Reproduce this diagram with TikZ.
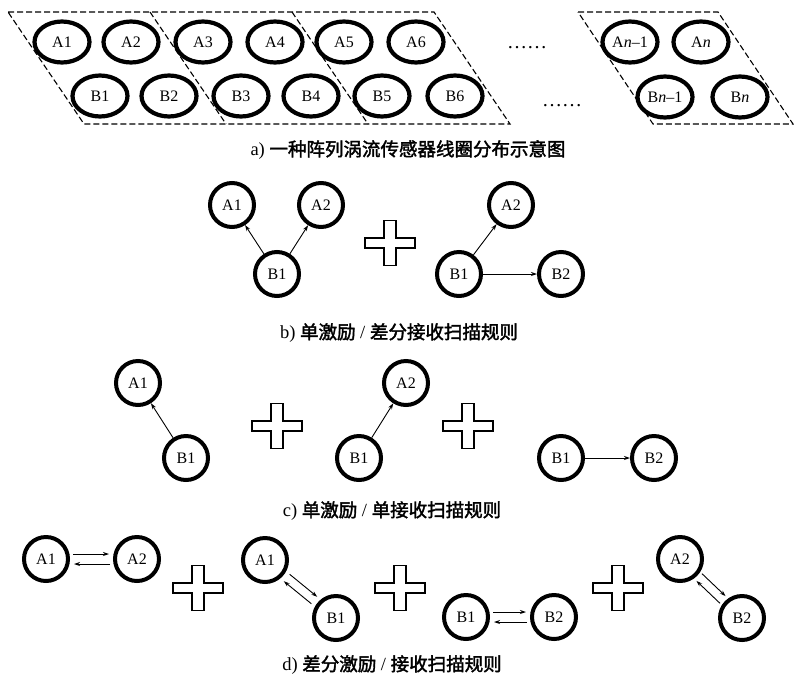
\documentclass[tikz,border=0pt]{standalone}
\usepackage{fontspec}
\setmainfont{Liberation Serif}
\newfontfamily\cjk{Noto Sans CJK SC}[FakeBold=2]
\usetikzlibrary{shapes.geometric,arrows.meta}

\tikzset{
  coil/.style={draw, ellipse, line width=4.2pt, minimum width=55pt, minimum height=41pt,
    inner sep=0pt, font=\fontsize{16}{16}\selectfont},
  ring/.style={draw, circle, line width=4pt, minimum size=44pt, inner sep=0pt,
    font=\fontsize{16}{16}\selectfont},
  arr/.style={-{Stealth[length=6pt,width=4pt]}, line width=0.9pt},
  pairarr/.style={arr, shorten <=3pt, shorten >=4pt},
  frame/.style={dash pattern=on 6pt off 3pt, line width=1.1pt},
  caption/.style={font=\fontsize{18.5}{20}\selectfont, inner sep=0pt},
  dotrow/.style={font=\fontsize{20}{20}\selectfont, inner sep=0pt, anchor=base},
  pics/crossmark/.style={code={
    \draw[line width=1.3pt, fill=white]
      (-6,-22.5) -- (6,-22.5) -- (6,-5) -- (25,-5) -- (25,5) -- (6,5) -- (6,22.5)
      -- (-6,22.5) -- (-6,5) -- (-25,5) -- (-25,-5) -- (-6,-5) -- cycle;
  }}
}

\begin{document}
\begin{tikzpicture}[x=1pt,y=-1pt]
\useasboundingbox[fill=white] (0,0) rectangle (794,678);

% ---------- a) coil layout ----------
% dashed groups
\draw[frame] (8,12) -- (434,12) -- (510,124) -- (84,124) -- cycle;
\draw[frame] (150,12) -- (226,124);
\draw[frame] (292,12) -- (368,124);
\draw[frame] (578,12) -- (718,12) -- (793,124) -- (653,124) -- cycle;

\node[coil] (A1) at (62,42) {A1};
\node[coil] (A2) at (131,42) {A2};
\node[coil] (A3) at (203,42) {A3};
\node[coil] (A4) at (275,42) {A4};
\node[coil] (A5) at (344,42) {A5};
\node[coil] (A6) at (416,42) {A6};
\node[coil] (B1) at (100,96) {B1};
\node[coil] (B2) at (169,96) {B2};
\node[coil] (B3) at (241,96) {B3};
\node[coil] (B4) at (311,96) {B4};
\node[coil] (B5) at (382,96) {B5};
\node[coil] (B6) at (455,96) {B6};
\node[coil] (Anm) at (630,42) {A\textit{n}--1};
\node[coil] (An) at (701,42) {A\textit{n}};
\node[coil] (Bnm) at (665,97) {B\textit{n}--1};
\node[coil] (Bn) at (740,97) {B\textit{n}};

\node[dotrow] (dotsA) at (527,48) {……};
\node[dotrow] (dotsB) at (562,106) {……};

\node[caption] (capa) at (408,150) {a) {\cjk 一种阵列涡流传感器线圈分布示意图}};

% ---------- b) single excitation / differential receiving ----------
\node[ring] (ba1) at (232,205) {A1};
\node[ring] (ba2) at (321,205) {A2};
\node[ring] (bb1) at (277,274) {B1};
\draw[arr] (bb1) -- (ba1);
\draw[arr] (bb1) -- (ba2);
\pic (bplus) at (390,243) {crossmark};
\node[ring] (ca2) at (511,205) {A2};
\node[ring] (cb1) at (459,274) {B1};
\node[ring] (cb2) at (561,274) {B2};
\draw[arr] (cb1) -- (ca2);
\draw[arr] (cb1) -- (cb2);
\node[caption] (capb) at (399,333) {b) {\cjk 单激励} / {\cjk 差分接收扫描规则}};

% ---------- c) single excitation / single receiving ----------
\node[ring] (ea1) at (138,383) {A1};
\node[ring] (eb1) at (186,458) {B1};
\draw[arr] (eb1) -- (ea1);
\pic (cplus1) at (277,426) {crossmark};
\node[ring] (fa2) at (406,383) {A2};
\node[ring] (fb1) at (359,458) {B1};
\draw[arr] (fb1) -- (fa2);
\pic (cplus2) at (468,426) {crossmark};
\node[ring] (gb1) at (561,458) {B1};
\node[ring] (gb2) at (654,458) {B2};
\draw[arr] (gb1) -- (gb2);
\node[caption] (capc) at (392,511) {c) {\cjk 单激励} / {\cjk 单接收扫描规则}};

% ---------- d) differential excitation / receiving ----------
\node[ring] (ha1) at (46,559) {A1};
\node[ring] (ha2) at (137,559) {A2};
\draw[pairarr, transform canvas={yshift=5pt}] (ha1) -- (ha2);
\draw[pairarr, transform canvas={yshift=-5pt}] (ha2) -- (ha1);
\pic (dplus1) at (198,588) {crossmark};
\node[ring] (ia1) at (265,560) {A1};
\node[ring] (ib1) at (336,618) {B1};
\draw[pairarr, shorten <=4pt, transform canvas={shift={(2.9pt,3.5pt)}}] (ia1) -- (ib1);
\draw[pairarr, shorten <=4pt, transform canvas={shift={(-2.9pt,-3.5pt)}}] (ib1) -- (ia1);
\pic (dplus2) at (400,588) {crossmark};
\node[ring] (jb1) at (466,617) {B1};
\node[ring] (jb2) at (554,617) {B2};
\draw[pairarr, transform canvas={yshift=5pt}] (jb1) -- (jb2);
\draw[pairarr, transform canvas={yshift=-5pt}] (jb2) -- (jb1);
\pic (dplus3) at (618,588) {crossmark};
\node[ring] (ka2) at (680,559) {A2};
\node[ring] (kb2) at (742,618) {B2};
\draw[pairarr, shorten <=2pt, shorten >=3pt, transform canvas={shift={(3.1pt,3.3pt)}}] (ka2) -- (kb2);
\draw[pairarr, shorten <=2pt, shorten >=3pt, transform canvas={shift={(-3.1pt,-3.3pt)}}] (kb2) -- (ka2);
\node[caption] (capd) at (392,665) {d) {\cjk 差分激励} / {\cjk 接收扫描规则}};
\end{tikzpicture}
\end{document}
